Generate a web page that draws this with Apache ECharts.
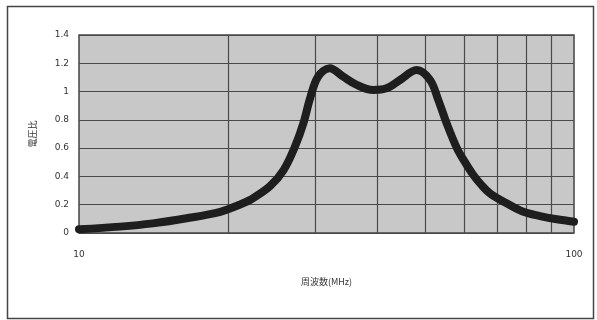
<!DOCTYPE html>
<html>
<head>
<meta charset="utf-8">
<script src="https://cdn.jsdelivr.net/npm/echarts@6/dist/echarts.min.js"></script>
<style>
html,body{margin:0;padding:0;background:#fff;}
#c{width:597px;height:320px;}
</style>
</head>
<body>
<div id="c"></div>
<script>
// Frequency (MHz) and voltage ratio
const freqMHz = [10, 12.1, 14.1, 16.5, 19.3, 21.1, 22.2, 24.3, 25.9, 27.3, 28.4, 29.3, 30.4, 32.1, 34.2, 36.4, 39.3, 41.8, 44.5, 48.1, 51.2, 53.2, 55.3, 58.0, 60.0, 62.6, 65.0, 67.7, 73.1, 79.0, 85.4, 92.3, 100];
const voltageRatio = [0.026, 0.045, 0.068, 0.104, 0.15, 0.2, 0.235, 0.33, 0.445, 0.61, 0.776, 0.953, 1.105, 1.165, 1.105, 1.047, 1.011, 1.023, 1.082, 1.153, 1.082, 0.94, 0.776, 0.6, 0.51, 0.41, 0.34, 0.28, 0.21, 0.15, 0.12, 0.097, 0.08];
const minorGridFreqs = [20, 30, 40, 50, 60, 70, 80, 90];
const xAxisName = '周波数(MHz)';
const yAxisName = '電圧比';

const chart = echarts.init(document.getElementById('c'), null, {renderer: 'canvas'});
const txt = '#333';
chart.setOption({
  animation: false,
  backgroundColor: '#fff',
  graphic: [{
    type: 'rect', left: 5, top: 4, z: -10,
    shape: {width: 586, height: 312},
    style: {fill: 'none', stroke: '#444', lineWidth: 1.5}
  }],
  grid: {
    left: 79, top: 35, right: 23, bottom: 87,
    show: true, backgroundColor: '#c8c8c8', borderColor: '#444', borderWidth: 1.5
  },
  xAxis: {
    type: 'log', logBase: 10, min: 10, max: 100,
    name: xAxisName, nameLocation: 'middle', nameGap: 44,
    nameTextStyle: {color: txt, fontSize: 9, fontFamily: 'Noto Sans CJK JP'},
    axisLine: {show: false},
    axisTick: {show: false},
    axisLabel: {color: txt, fontSize: 9, margin: 17, fontFamily: 'DejaVu Sans'},
    splitLine: {show: false}
  },
  yAxis: {
    type: 'value', min: 0, max: 1.4, interval: 0.2,
    name: yAxisName, nameLocation: 'middle', nameGap: 42, nameRotate: 90,
    nameTextStyle: {color: txt, fontSize: 9, fontFamily: 'Noto Sans CJK JP'},
    axisLine: {show: false},
    axisTick: {show: false},
    axisLabel: {color: txt, fontSize: 9, margin: 10, fontFamily: 'DejaVu Sans',
      formatter: v => String(Math.round(v * 10) / 10)},
    splitLine: {show: true, lineStyle: {color: '#4a4a4a', width: 1.2}}
  },
  series: [
    {
      type: 'line', data: [], z: 1, silent: true,
      markLine: {
        silent: true, symbol: 'none', animation: false,
        label: {show: false},
        lineStyle: {color: '#4a4a4a', width: 1.2, type: 'solid'},
        data: minorGridFreqs.map(f => ({xAxis: f}))
      }
    },
    {
      type: 'line', z: 5,
      data: freqMHz.map((f, i) => [f, voltageRatio[i]]),
      smooth: 0.35, showSymbol: false,
      lineStyle: {color: '#1e1e1e', width: 8, cap: 'round', join: 'round'}
    }
  ]
});
</script>
</body>
</html>
